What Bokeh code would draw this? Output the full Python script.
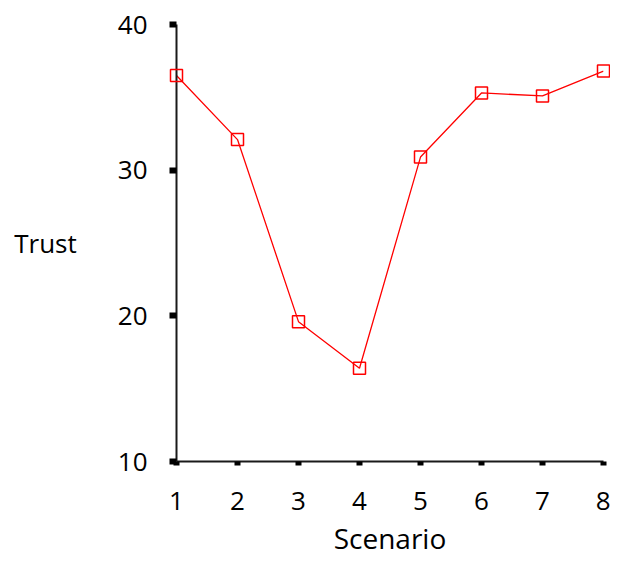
from bokeh.plotting import figure
from bokeh.models import FixedTicker, Range1d
from bokeh.embed import file_html
from bokeh.resources import INLINE

scenarios = [1, 2, 3, 4, 5, 6, 7, 8]
trust = [36.5, 32.1, 19.6, 16.4, 30.9, 35.3, 35.1, 36.8]
x_ticks = [1, 2, 3, 4, 5, 6, 7, 8]
y_ticks = [10, 20, 30, 40]
x_title = "Scenario"
y_title = "Trust"

FONT = "Open Sans"

p = figure(width=610, height=559, x_range=Range1d(1, 8), y_range=Range1d(10, 40),
           output_backend="svg", toolbar_location=None,
           min_border_left=176, min_border_right=7, min_border_top=24, min_border_bottom=96)
p.outline_line_color = None
p.grid.visible = False
p.background_fill_color = "white"
p.border_fill_color = "white"

p.line(scenarios, trust, line_color="#FF0000", line_width=1.3)
r = p.scatter(scenarios, trust, marker="square", size=12, line_color="#FF0000",
              line_width=1.5, fill_alpha=0)
r.level = "overlay"

for ax in (p.xaxis[0], p.yaxis[0]):
    ax.axis_line_width = 2
    ax.axis_line_color = "#1a1a1a"
    ax.major_tick_line_color = "black"
    ax.major_tick_in = 0
    ax.minor_tick_line_color = None
    ax.major_label_text_font = FONT
    ax.major_label_text_font_size = "26px"
    ax.major_label_text_color = "black"
    ax.axis_label_text_font = FONT
    ax.axis_label_text_font_size = "28px"
    ax.axis_label_text_font_style = "normal"
    ax.axis_label_text_color = "black"

p.yaxis.axis_label_text_font_size = "26px"

p.xaxis.ticker = FixedTicker(ticks=x_ticks)
p.yaxis.ticker = FixedTicker(ticks=y_ticks)
p.xaxis.axis_label = x_title
p.yaxis.axis_label = y_title
p.yaxis.axis_label_orientation = "horizontal"

p.xaxis.major_tick_out = 4
p.xaxis.major_tick_line_width = 6
p.xaxis.major_label_standoff = 26
p.xaxis.axis_label_standoff = 6

p.yaxis.major_tick_out = 7
p.yaxis.major_tick_line_width = 6
p.yaxis.major_label_standoff = 22
p.yaxis.axis_label_standoff = 38

open("out.html", "w").write(file_html(p, INLINE))
